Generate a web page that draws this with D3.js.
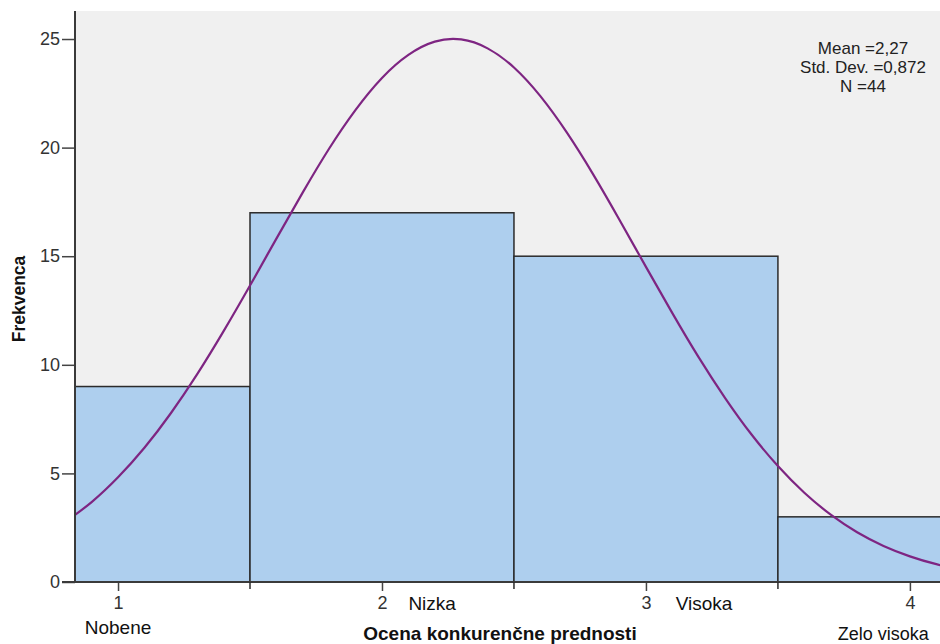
<!DOCTYPE html>
<html>
<head>
<meta charset="utf-8">
<script src="https://cdn.jsdelivr.net/npm/d3@7"></script>
<style>
  body { margin: 0; background: #fff; }
  text { font-family: "Liberation Sans", Arial, sans-serif; }
</style>
</head>
<body>
<script>
'use strict';

// histogram bins (bin edges) and counts
const binEdges = [0.5, 1.5, 2.5, 3.5, 4.5];
const counts = [9, 17, 15, 3];

const xTicks = [1, 2, 3, 4];
const yTicks = [0, 5, 10, 15, 20, 25];

// category labels under the axis
const catLabels = ["Nobene", "Nizka", "Visoka", "Zelo visoka"];

// normal curve, points
const curveX = [0.8, 0.9, 1.0, 1.1, 1.2, 1.3, 1.4, 1.5, 1.6, 1.7, 1.8, 1.9, 2.0, 2.1, 2.2, 2.3,
    2.4, 2.5, 2.6, 2.7, 2.8, 2.9, 3.0, 3.1, 3.2, 3.3, 3.4, 3.5, 3.6, 3.7, 3.8, 3.9, 4.0, 4.1, 4.2];
const curveY = [2.76, 3.68, 4.82, 6.18, 7.77, 9.57, 11.55, 13.65, 15.81, 17.94, 19.96, 21.74, 23.21,
    24.27, 24.88, 24.98, 24.57, 23.69, 22.37, 20.70, 18.77, 16.67, 14.51, 12.38, 10.34, 8.47, 6.79,
    5.34, 4.11, 3.10, 2.29, 1.66, 1.18, 0.82, 0.56];

const statLines = ["Mean =2,27", "Std. Dev. =0,872", "N =44"];

const width = 940, height = 644;
const plotLeft = 75, plotRight = 940, plotTop = 11, plotBottom = 582;

let svg = d3.select("body").append("svg")
    .attr("width", width)
    .attr("height", height);

let x = d3.scaleLinear().domain([0.837, 4.114]).range([plotLeft, plotRight]);
let y = d3.scaleLinear().domain([0, 26.29]).range([plotBottom, plotTop]);

svg.append("defs").append("clipPath").attr("id", "plot")
    .append("rect")
    .attr("x", plotLeft).attr("y", plotTop)
    .attr("width", plotRight - plotLeft).attr("height", plotBottom - plotTop);

// plot background
svg.append("rect")
    .attr("x", plotLeft).attr("y", plotTop)
    .attr("width", plotRight - plotLeft).attr("height", plotBottom - plotTop)
    .attr("fill", "#f0f0f0");

let plot = svg.append("g").attr("clip-path", "url(#plot)");

plot.selectAll("rect.bar")
    .data(counts)
    .join("rect")
    .attr("class", "bar")
    .attr("x", (d, i) => x(binEdges[i]))
    .attr("y", d => y(d))
    .attr("width", (d, i) => x(binEdges[i + 1]) - x(binEdges[i]))
    .attr("height", d => y(0) - y(d))
    .attr("fill", "#aecfee")
    .attr("stroke", "#2b2b2b")
    .attr("stroke-width", 1.5);

let line = d3.line()
    .x(d => x(d[0]))
    .y(d => y(d[1]))
    .curve(d3.curveNatural);

plot.append("path")
    .datum(d3.zip(curveX, curveY))
    .attr("d", line)
    .attr("fill", "none")
    .attr("stroke", "#7e2582")
    .attr("stroke-width", 2.2);

// y axis
let yAxis = svg.append("g")
    .attr("transform", `translate(${plotLeft},0)`)
    .call(d3.axisLeft(y).tickValues(yTicks).tickSize(13).tickPadding(2));
yAxis.select(".domain").remove();
yAxis.append("line")
    .attr("x1", 0).attr("x2", 0)
    .attr("y1", plotTop).attr("y2", plotBottom)
    .attr("stroke", "#3a3a3a").attr("stroke-width", 2);
yAxis.selectAll(".tick line").attr("stroke", "#444").attr("stroke-width", 1.5);
yAxis.selectAll(".tick text")
    .attr("fill", "#333")
    .style("font-size", "18px")
    .style("font-family", "Liberation Sans, Arial, sans-serif");

// x axis
let xAxis = svg.append("g")
    .attr("transform", `translate(0,${plotBottom})`)
    .call(d3.axisBottom(x).tickValues(xTicks).tickSize(9).tickPadding(5).tickFormat(d3.format("d")));
xAxis.select(".domain").remove();
xAxis.append("line")
    .attr("x1", plotLeft - 13).attr("x2", plotRight)
    .attr("y1", 0).attr("y2", 0)
    .attr("stroke", "#3a3a3a").attr("stroke-width", 2);
xAxis.selectAll(".tick line").attr("stroke", "#444").attr("stroke-width", 1.5);
xAxis.selectAll(".tick text")
    .attr("fill", "#333")
    .style("font-size", "18px")
    .style("font-family", "Liberation Sans, Arial, sans-serif");

// bar edges poke below the axis a little
xAxis.selectAll("line.edge")
    .data(binEdges.slice(1, 4))
    .join("line")
    .attr("class", "edge")
    .attr("x1", d => x(d)).attr("x2", d => x(d))
    .attr("y1", 0).attr("y2", 7)
    .attr("stroke", "#2b2b2b").attr("stroke-width", 1.5);

// category labels
const catPos = [[1, 634, "middle"], [2.19, 610, "middle"], [3.22, 610, "middle"], [3.727, 640, "start"]];
svg.selectAll("text.cat")
    .data(catLabels)
    .join("text")
    .attr("class", "cat")
    .attr("x", (d, i) => x(catPos[i][0]))
    .attr("y", (d, i) => catPos[i][1])
    .attr("text-anchor", (d, i) => catPos[i][2])
    .attr("fill", "#111")
    .style("font-size", (d, i) => i === 3 ? "18px" : "19px")
    .text(d => d);

// axis titles
svg.append("text")
    .attr("x", 500).attr("y", 640)
    .attr("text-anchor", "middle")
    .attr("fill", "#111")
    .style("font-size", "19px")
    .style("font-weight", "bold")
    .text("Ocena konkurenčne prednosti");

svg.append("text")
    .attr("transform", "translate(25,299) rotate(-90)")
    .attr("text-anchor", "middle")
    .attr("fill", "#111")
    .style("font-size", "17.5px")
    .style("font-weight", "bold")
    .text("Frekvenca");

// stats box
svg.append("g")
    .selectAll("text")
    .data(statLines)
    .join("text")
    .attr("x", 863)
    .attr("y", (d, i) => 54 + i * 19)
    .attr("text-anchor", "middle")
    .attr("fill", "#222")
    .style("font-size", "17px")
    .text(d => d);
</script>
</body>
</html>
